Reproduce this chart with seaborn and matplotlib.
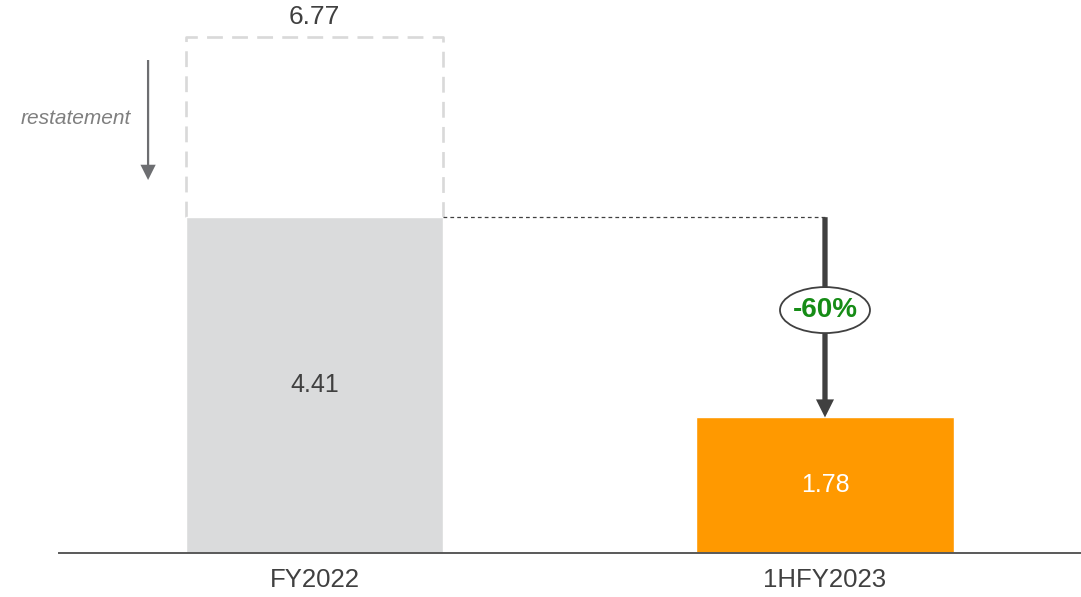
import matplotlib
matplotlib.use("Agg")
import matplotlib.pyplot as plt
from matplotlib.patches import Ellipse, FancyArrowPatch
import seaborn as sns
import pandas as pd

# Values
periods = ["FY2022", "1HFY2023"]
values = [4.41, 1.78]
fy2022_before_restatement = 6.77
bar_colors = ["#DADBDC", "#FF9900"]
label_colors = ["#404040", "#FFFFFF"]

sns.set_theme(style="white")
plt.rcParams["font.family"] = ["Liberation Sans", "DejaVu Sans"]

W, H = 1081, 597
fig = plt.figure(figsize=(W / 100, H / 100), dpi=100)
ax = fig.add_axes([59 / W, 44 / H, (W - 59) / W, 553 / H])

df = pd.DataFrame({"period": periods, "value": values})
sns.barplot(data=df, x="period", y="value", hue="period", palette=bar_colors,
            width=0.505, legend=False, ax=ax, zorder=2, saturation=1)

ax.set_xlim(-0.5005, 1.5015)
ax.set_ylim(0, 7.262)

# Restated-away portion of FY2022 shown as a dashed outline
half = 0.505 / 2
dash_kw = dict(color="#D9D9D9", lw=1.9, ls=(0, (6, 3.5)), zorder=1, solid_capstyle="butt")
ax.plot([-half, -half, half, half],
        [values[0], fy2022_before_restatement, fy2022_before_restatement, values[0]],
        **dash_kw)
ax.annotate(f"{fy2022_before_restatement:.2f}", xy=(0, fy2022_before_restatement),
            xytext=(0, 15), textcoords="offset points", ha="center", va="center",
            fontsize=19, color="#404040")

# Value labels inside the bars
for i, (v, c) in enumerate(zip(values, label_colors)):
    ax.text(i, v / 2, f"{v:.2f}", ha="center", va="center",
            fontsize=18, color=c, zorder=5)

# Restatement arrow with caption
ax.add_patch(FancyArrowPatch((-0.326, 6.474), (-0.326, 4.898),
                             arrowstyle="simple,head_length=11,head_width=11,tail_width=1.6",
                             mutation_scale=1, lw=0, color="#6D6E71",
                             shrinkA=0, shrinkB=0, zorder=3))
ax.text(-0.36, 5.71, "restatement", ha="right", va="center", fontsize=15,
        style="italic", color="#7F7F7F")

# Change between the two periods
ax.plot([half, 1], [values[0], values[0]], color="#404040", lw=0.9,
        ls=(0, (3, 2.5)), zorder=3)
ax.add_patch(FancyArrowPatch((1, values[0]), (1, values[1]),
                             arrowstyle="simple,head_length=13,head_width=13,tail_width=3.8",
                             mutation_scale=1, lw=0, color="#404040",
                             shrinkA=0, shrinkB=0, zorder=3))
change = (values[1] - values[0]) / values[0]
ecy = 3.19
ax.add_patch(Ellipse((1, ecy), width=90 / 510.5, height=46 / 76.15,
                     facecolor="white", edgecolor="#404040", lw=1.3, zorder=4))
ax.text(1, ecy, f"{change:.0%}", ha="center", va="center", fontsize=20,
        fontweight="bold", color="#168C16", zorder=5)

# Axes styling
for s in ["top", "right", "left"]:
    ax.spines[s].set_visible(False)
ax.spines["bottom"].set_color("#595959")
ax.spines["bottom"].set_linewidth(1.4)
ax.set_yticks([])
ax.set_xlabel("")
ax.set_ylabel("")
ax.tick_params(axis="x", length=0, pad=11, labelsize=18.5, labelcolor="#404040")
ax.set_facecolor("white")
fig.patch.set_facecolor("white")

fig.savefig("out.png", dpi=100)
